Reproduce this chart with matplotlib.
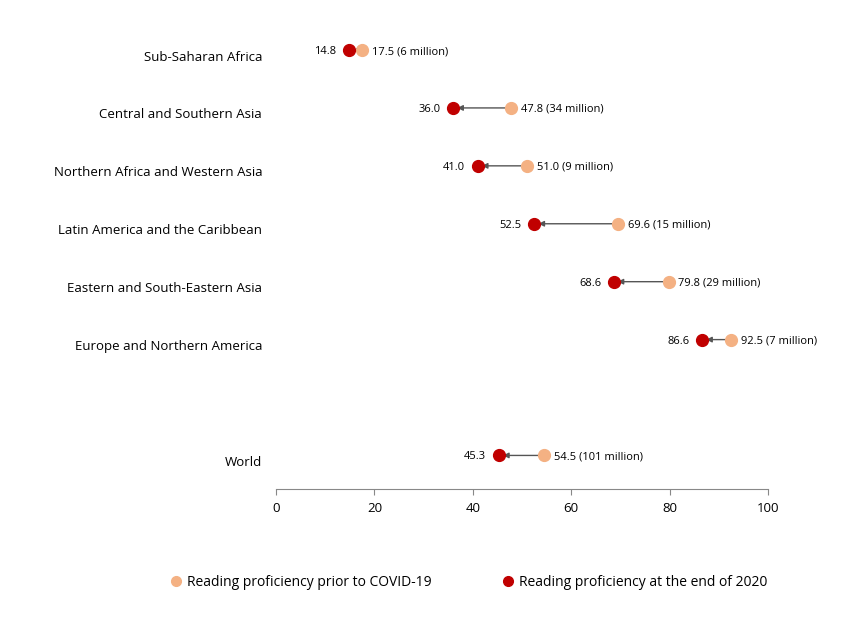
import matplotlib.pyplot as plt
import matplotlib.transforms as mtransforms

regions = ["Sub-Saharan Africa", "Central and Southern Asia", "Northern Africa and Western Asia",
           "Latin America and the Caribbean", "Eastern and South-Eastern Asia",
           "Europe and Northern America", "World"]
prior = [17.5, 47.8, 51.0, 69.6, 79.8, 92.5, 54.5]
end_2020 = [14.8, 36.0, 41.0, 52.5, 68.6, 86.6, 45.3]
millions = [6, 34, 9, 15, 29, 7, 101]
ypos = [0, 1, 2, 3, 4, 5, 7]

c_prior = "#F4B183"
c_end = "#C00000"

plt.rcParams['font.family'] = ['Open Sans', 'DejaVu Sans']
fig = plt.figure(figsize=[8.47, 6.38], dpi=100)
ax = fig.add_axes([0.3259, 0.2335, 0.5808, 0.7335])

for y, p, e, m in zip(ypos, prior, end_2020, millions):
  ax.annotate("", xy=(e, y), xytext=(p, y),
              arrowprops=dict(arrowstyle="-|>", color="#555555", lw=1, mutation_scale=8,
                              shrinkA=0, shrinkB=3))
  ax.plot(p, y, "o", color=c_prior, markersize=8.5, zorder=3)
  ax.plot(e, y, "o", color=c_end, markersize=8.5, zorder=3)
  ax.annotate(f"{e:.1f}", (e, y), xytext=(-9, 0), textcoords="offset points",
              ha="right", va="center_baseline", fontsize=8)
  ax.annotate(f"{p:.1f} ({m} million)", (p, y), xytext=(7, 0), textcoords="offset points",
              ha="left", va="center_baseline", fontsize=8)

ax.set_xlim(0, 100)
ax.set_ylim(7.58, -0.5)
ax.set_xticks([0, 20, 40, 60, 80, 100])
ax.set_yticks(ypos)
ax.set_yticklabels(regions, fontsize=9.5)
ax.tick_params(axis="y", length=0, pad=10)
ax.tick_params(axis="x", colors="#888888", labelcolor="black", labelsize=9.5, length=4,
               direction="out", pad=5)
shift = mtransforms.ScaledTranslation(0, -4 / 72, fig.dpi_scale_trans)
for lbl in ax.get_yticklabels():
  lbl.set_transform(lbl.get_transform() + shift)
for s in ["top", "left", "right"]:
  ax.spines[s].set_visible(False)
ax.spines["bottom"].set_color("#888888")

h1, = ax.plot([], [], "o", color=c_prior, markersize=7, label="Reading proficiency prior to COVID-19")
h2, = ax.plot([], [], "o", color=c_end, markersize=7, label="Reading proficiency at the end of 2020")
fig.legend(handles=[h1, h2], loc="center", bbox_to_anchor=(0.553, 0.087), ncol=2, frameon=False,
           fontsize=10, handletextpad=0.3, columnspacing=5, handlelength=1)

plt.savefig("out.png", dpi=100)
